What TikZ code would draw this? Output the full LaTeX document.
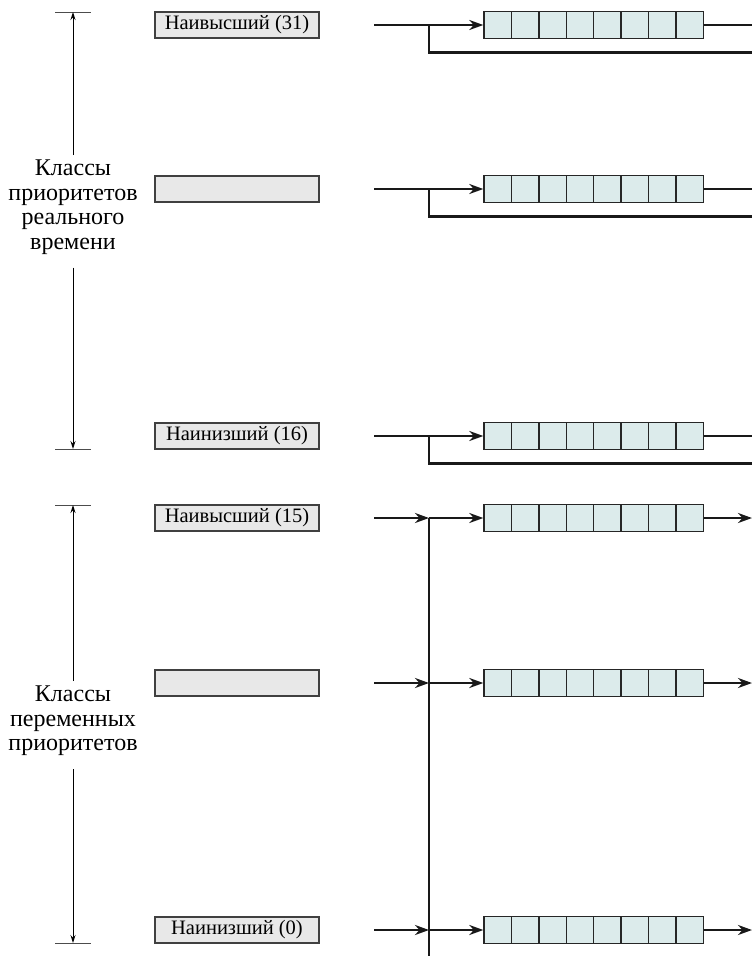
\documentclass[tikz,border=0pt]{standalone}
\usepackage{fontspec}
\setmainfont{Liberation Serif}
\newfontfamily\tnr{Liberation Serif}
\usetikzlibrary{arrows.meta}
\definecolor{qfill}{HTML}{DCEBEB}
\definecolor{lfill}{HTML}{E8E8E8}
\begin{document}
\begin{tikzpicture}[x=1pt,y=-1pt,
  lbl/.style={draw=black!75, fill=lfill, line width=1.1pt, minimum width=164pt, minimum height=26pt, inner sep=0pt, font=\tnr\fontsize{20.5}{22}\selectfont},
  cell/.style={draw=black!85, fill=qfill, line width=1.4pt, minimum width=27.4pt, minimum height=27pt, inner sep=0pt},
  conn/.style={line width=2.4pt, black!90},
  arr/.style={conn, -{Stealth[length=14pt,width=10pt]}},
  dim/.style={line width=0.9pt, -{Stealth[length=8pt,width=5pt]}},
  tick/.style={line width=1pt, black!70},
  side/.style={align=center, font=\tnr\fontsize{24}{24.5}\selectfont, inner xsep=0pt, inner ysep=5pt}]
\useasboundingbox (0,0) rectangle (752,956);

\foreach \r/\y/\t in {1/25/{Наивысший (31)}, 2/189/{}, 3/436/{Наинизший (16)}, 4/518/{Наивысший (15)}, 5/683/{}, 6/930/{Наинизший (0)}}{
  \node[lbl] (lab\r) at (237,\y) {\t};
  \foreach \i in {1,...,8}{
    \node[cell] (q\r-\i) at ({497.7+27.4*(\i-1)},\y) {};
  }
  \coordinate (in\r) at (374,\y);
  \coordinate (j\r) at (429,\y);
  \coordinate (out\r) at (752,\y);
  \coordinate (fb\r) at (752,{\y+27.5});
  \coordinate (br\r) at (429,{\y+27.5});
}

% real-time rows
\foreach \r in {1,2,3}{
  \draw[arr] (in\r) -- (q\r-1.west);
  \draw[conn] (q\r-8.east) -- (out\r);
  \draw[conn] (fb\r) -- (br\r) -- (j\r);
}

% variable rows
\coordinate (vbot) at (429,956);
\draw[conn] (j4) -- (vbot);
\foreach \r in {4,5,6}{
  \draw[arr] (in\r) -- (j\r);
  \draw[arr] (j\r) -- (q\r-1.west);
  \draw[arr] (q\r-8.east) -- (out\r);
}

% left dimension marks
\coordinate (t1) at (73,12);  \coordinate (t1a) at (55,12);  \coordinate (t1b) at (91,12);
\coordinate (b1) at (73,449); \coordinate (b1a) at (55,449); \coordinate (b1b) at (91,449);
\coordinate (t2) at (73,505); \coordinate (t2a) at (55,505); \coordinate (t2b) at (91,505);
\coordinate (b2) at (73,943); \coordinate (b2a) at (55,943); \coordinate (b2b) at (91,943);
\draw[tick] (t1a) -- (t1b);
\draw[tick] (b1a) -- (b1b);
\draw[tick] (t2a) -- (t2b);
\draw[tick] (b2a) -- (b2b);

\node[side, anchor=north] (side1) at (73,155) {Классы\\приоритетов\\реального\\времени};
\node[side, anchor=north] (side2) at (73,681) {Классы\\переменных\\приоритетов};
\draw[dim] (side1.north) -- (t1);
\draw[dim, shorten <=8pt] (side1.south) -- (b1);
\draw[dim] (side2.north) -- (t2);
\draw[dim, shorten <=8pt] (side2.south) -- (b2);
\end{tikzpicture}
\end{document}
